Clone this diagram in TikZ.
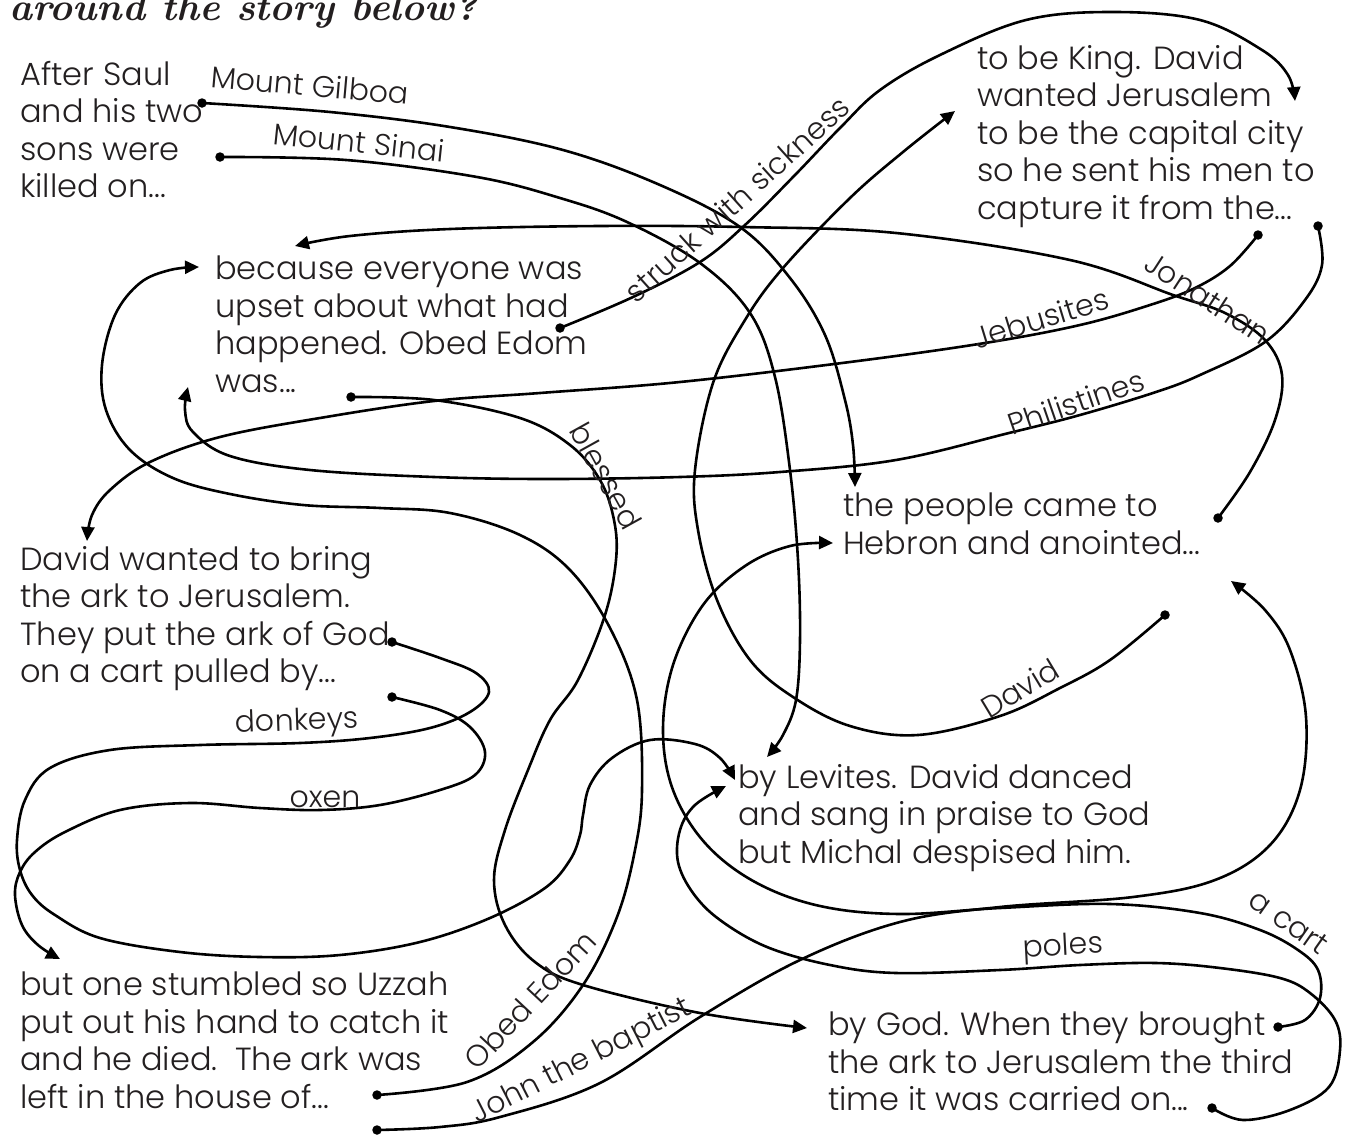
\documentclass[tikz,border=0pt]{standalone}
\usepackage{fontspec}
\newfontfamily\storyfam{Poppins Light}
\usetikzlibrary{arrows.meta}
\definecolor{ink}{HTML}{231F20}
\newcommand\storyfont{\storyfam\fontsize{32}{37.5}\selectfont}
\newcommand\lblfont{\storyfam\fontsize{30}{32}\selectfont}
\tikzset{
  wire/.style={line width=2.6pt, line join=round, -{Triangle[length=14pt,width=13pt]}},
  dotnode/.style={circle, fill=black, inner sep=0pt, minimum size=9.5pt},
  storytext/.style={anchor=north west, align=left, inner sep=0pt, text=ink, font=\storyfont},
  lbl/.style={inner sep=0pt, text=ink, font=\lblfont},
}
\begin{document}
\begin{tikzpicture}[x=1pt,y=-1pt]
\useasboundingbox (0,0) rectangle (1359,1135);
\node[anchor=base west, inner sep=0pt, text=ink] (title) at (9,20) {\resizebox{468pt}{!}{\fontsize{33}{36}\selectfont\bfseries\itshape around the story below?}};

% story texts
\node[storytext] (tA) at (20,61) {After Saul\\and his two\\sons were\\killed on...};
\node[storytext] (tB) at (977,45) {to be King. David\\wanted Jerusalem\\to be the capital city\\so he sent his men to\\capture it from the...};
\node[storytext] (tC) at (215,256) {because everyone was\\upset about what had\\happened. Obed Edom\\was...};
\node[storytext] (tD) at (843,493) {the people came to\\Hebron and anointed...};
\node[storytext] (tE) at (20,546) {David wanted to bring\\the ark to Jerusalem.\\They put the ark of God\\on a cart pulled by...};
\node[storytext] (tF) at (738,764) {by Levites. David danced\\and sang in praise to God\\but Michal despised him.};
\node[storytext] (tG) at (20,972) {but one stumbled so Uzzah\\put out his hand to catch it\\and he died.\ \ The ark was\\left in the house of...};
\node[storytext] (tH) at (828,1012) {by God. When they brought\\the ark to Jerusalem the third\\time it was carried on...};

% start dots
\node[dotnode] (dGilboa) at (202,103) {};
\node[dotnode] (dSinai) at (220,157) {};
\node[dotnode] (dStruck) at (560,328) {};
\node[dotnode] (dBlessed) at (351,397) {};
\node[dotnode] (dJebus) at (1258,235) {};
\node[dotnode] (dPhil) at (1318,226) {};
\node[dotnode] (dJon) at (1218,518) {};
\node[dotnode] (dDavid) at (1165,615) {};
\node[dotnode] (dDonk) at (392,642) {};
\node[dotnode] (dOxen) at (392,697) {};
\node[dotnode] (dObed) at (377,1095) {};
\node[dotnode] (dJohn) at (377,1130) {};
\node[dotnode] (dCart) at (1278,1027) {};
\node[dotnode] (dPoles) at (1212,1108) {};

% arrow ends
\coordinate (aGilboa) at (855,487);
\coordinate (aSinai) at (767,757);
\coordinate (aJon) at (295,246);
\coordinate (aJebus) at (87,541);
\coordinate (aPhil) at (188,387);
\coordinate (aStruck) at (1295,101);
\coordinate (aDavid) at (955,111);
\coordinate (aBlessed) at (807,1028);
\coordinate (aObed) at (199,267);
\coordinate (aDonk) at (735,780);
\coordinate (aOxen) at (60,959);
\coordinate (aPoles) at (726,786);
\coordinate (aCart) at (833,543);
\coordinate (aJohn) at (1231,581);

% connectors
\draw[wire] plot[smooth,tension=0.6] coordinates {(dGilboa.center) (330,112) (450,127) (563,150) (660,185) (740,227) (790,278) (825,335) (845,400) (853,445) (aGilboa)};
\draw[wire] plot[smooth,tension=0.6] coordinates {(dSinai.center) (346,160) (477,177) (560,198) (627,222) (700,263) (750,313) (775,377) (790,470) (798,560) (800,640) (796,700) (783,735) (aSinai)};
\draw[wire] plot[smooth,tension=0.6] coordinates {(dStruck.center) (633,297) (700,262) (745,225) (795,175) (840,128) (880,90) (940,55) (1026,20) (1113,12) (1200,20) (1262,50) (1288,75) (aStruck)};
\draw[wire] plot[smooth,tension=0.6] coordinates {(dJon.center) (1250,472) (1275,420) (1282,375) (1265,340) (1225,313) (1173,295) (1070,260) (896,233) (741,227) (600,226) (450,229) (350,236) (aJon)};
\draw[wire] plot[smooth,tension=0.6] coordinates {(dJebus.center) (1230,266) (1195,288) (1150,305) (1080,325) (985,343) (850,362) (680,382) (540,393) (434,401) (320,418) (220,437) (150,462) (110,490) (92,515) (aJebus)};
\draw[wire] plot[smooth,tension=0.6] coordinates {(dPhil.center) (1322,265) (1305,300) (1265,342) (1200,375) (1156,392) (1080,415) (1009,433) (896,460) (780,472) (680,477) (550,479) (434,477) (310,470) (230,456) (193,432) (185,410) (aPhil)};
\draw[wire] plot[smooth,tension=0.6] coordinates {(dDavid.center) (1110,660) (1060,688) (1000,716) (918,735) (850,726) (793,697) (750,660) (717,600) (698,530) (695,470) (713,383) (745,320) (783,268) (850,198) (903,152) (aDavid)};
\draw[wire] plot[smooth,tension=0.6] coordinates {(dBlessed.center) (434,400) (520,418) (570,445) (600,480) (614,520) (616,560) (605,615) (578,680) (550,720) (528,770) (505,830) (494,880) (505,925) (535,962) (583,985) (700,1013) (aBlessed)};
\draw[wire] plot[smooth,tension=0.6] coordinates {(dObed.center) (467,1082) (533,1042) (583,985) (617,917) (635,850) (642,790) (637,700) (610,628) (570,570) (520,535) (450,513) (380,508) (303,505) (230,494) (173,478) (130,450) (106,410) (102,365) (115,315) (140,283) (170,270) (aObed)};
\draw[wire] plot[smooth,tension=0.6] coordinates {(dDonk.center) (440,658) (476,673) (489,692) (470,712) (430,728) (370,738) (300,743) (200,745) (110,750) (50,768) (25,800) (17,840) (20,870) (32,895) (55,915) (100,938) (180,952) (260,957) (340,955) (420,942) (490,918) (545,888) (570,860) (580,835) (583,815) (590,785) (612,758) (650,740) (695,744) (720,758) (aDonk)};
\draw[wire] plot[smooth,tension=0.6] coordinates {(dOxen.center) (440,710) (470,727) (485,752) (475,775) (440,790) (380,805) (320,810) (260,808) (190,803) (120,810) (65,832) (35,852) (20,872) (15,895) (22,925) (38,945) (aOxen)};
\draw[wire] plot[smooth,tension=0.6] coordinates {(dPoles.center) (1243,1120) (1290,1110) (1329,1087) (1340,1050) (1335,1020) (1310,993) (1280,978) (1220,968) (1156,963) (1080,965) (1000,970) (896,973) (830,965) (767,947) (720,920) (693,893) (678,862) (680,830) (695,805) (aPoles)};
\draw[wire] plot[smooth,tension=0.6] coordinates {(dCart.center) (1305,1020) (1320,998) (1318,970) (1298,950) (1260,930) (1200,913) (1110,904) (1000,908) (900,914) (820,906) (755,882) (705,843) (673,790) (663,730) (673,665) (703,605) (745,566) (790,546) (aCart)};
\draw[wire] plot[smooth,tension=0.6] coordinates {(dJohn.center) (440,1127) (500,1117) (600,1083) (700,1017) (800,960) (900,922) (1000,907) (1133,897) (1215,880) (1270,845) (1300,790) (1306,717) (1290,650) (1265,610) (aJohn)};

% labels
\node[lbl, rotate=-5] (lGilboa) at (310,85) {Mount Gilboa};
\node[lbl, rotate=-6] (lSinai) at (359,142) {Mount Sinai};
\node[lbl, rotate=42] (lStruck) at (737,199) {struck with sickness};
\node[lbl, rotate=-33] (lJon) at (1208,298) {Jonathan};
\node[lbl, rotate=17] (lJebus) at (1041,318) {Jebusites};
\node[lbl, rotate=19] (lPhil) at (1076,402) {Philistines};
\node[lbl, rotate=31] (lDavid) at (1020,688) {David};
\node[lbl, rotate=-61] (lBlessed) at (606,476) {blessed};
\node[lbl, rotate=2] (lDonk) at (297,723) {donkeys};
\node[lbl] (lOxen) at (325,799) {oxen};
\node[lbl, rotate=47] (lObed) at (530,1000) {Obed Edom};
\node[lbl, rotate=27] (lJohn) at (582,1062) {John the baptist};
\node[lbl, rotate=3] (lPoles) at (1063,948) {poles};
\node[lbl, rotate=-35] (lCart) at (1289,922) {a cart};
\end{tikzpicture}
\end{document}
